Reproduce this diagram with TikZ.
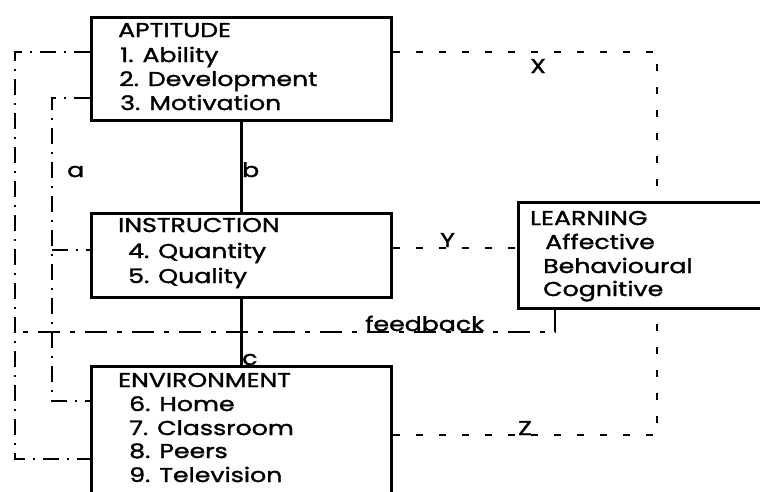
\documentclass[tikz,border=0pt]{standalone}
\usepackage{fontspec}
\setmainfont{Poppins}[FakeStretch=1.26,FakeBold=1.6]
\usetikzlibrary{calc}
\begin{document}
\begin{tikzpicture}[x=1pt,y=-1pt,
  box/.style={draw,line width=3.4pt,rectangle,inner sep=0pt,anchor=north west},
  link/.style={line width=3.2pt},
  dashlink/.style={line width=1.9pt,dash pattern=on 7pt off 16pt},
  fblink/.style={line width=1.9pt,dash pattern=on 22pt off 10pt on 5pt off 10pt},
  looplink/.style={line width=1.9pt,dash pattern=on 16pt off 8pt on 2pt off 8pt},
  txt/.style={anchor=base west,inner sep=0pt,font=\fontsize{20}{24}\selectfont},
  lbl/.style={anchor=base west,inner sep=0pt,font=\fontsize{20}{24}\selectfont}]
\useasboundingbox (0,0) rectangle (760,491);
\clip (0,0) rectangle (760,491);

% boxes
\node[box,minimum width=300pt,minimum height=103pt] (apt) at (90,16) {};
\node[box,minimum width=300pt,minimum height=84pt]  (ins) at (90,212) {};
\node[box,minimum width=300pt,minimum height=165pt] (env) at (90,365) {};
\node[box,minimum width=283pt,minimum height=106pt] (lrn) at (517,201) {};

% box texts
\node[txt] (apt0) at (118,37)  {APTITUDE};
\node[txt] (apt1) at (120,62)  {1. Ability};
\node[txt] (apt2) at (119,86)  {2. Development};
\node[txt] (apt3) at (120,110) {3. Motivation};

\node[txt] (ins0) at (118,232) {INSTRUCTION};
\node[txt] (ins1) at (128,258) {4. Quantity};
\node[txt] (ins2) at (128,283) {5. Quality};

\node[txt] (env0) at (118,387) {ENVIRONMENT};
\node[txt] (env1) at (129,411) {6. Home};
\node[txt] (env2) at (129,435) {7. Classroom};
\node[txt] (env3) at (129,458) {8. Peers};
\node[txt] (env4) at (129,482) {9. Television};

\node[txt] (lrn0) at (530,225) {LEARNING};
\node[txt] (lrn1) at (545,249) {Affective};
\node[txt] (lrn2) at (543,273) {Behavioural};
\node[txt] (lrn3) at (543,296) {Cognitive};

% solid links
\draw[link] (apt.south) -- (ins.north);
\draw[link] (ins.south) -- (env.north);

% dashed links to LEARNING
\coordinate (xc) at (657,52);
\draw[dashlink] (apt.east |- xc) -- (xc) -- (xc |- lrn.north);
\coordinate (yc) at (450,248);
\draw[dashlink] (ins.east |- yc) -- (lrn.west |- yc);
\coordinate (zc) at (657,435);
\draw[dashlink] (env.east |- zc) -- (zc) -- (zc |- lrn.south);

% feedback line
\coordinate (fbr) at (555,332);
\coordinate (fbl) at (15,332);
\draw[fblink] (fbr |- lrn.south) -- (fbr) -- (fbl);

% left loops
\coordinate (otop) at (15,52);
\coordinate (obot) at (15,459);
\draw[looplink] (apt.west |- otop) -- (otop) -- (obot) -- (env.west |- obot);
\coordinate (itop) at (52,98);
\coordinate (ibot) at (52,401);
\coordinate (imid) at (52,250);
\draw[looplink] (apt.west |- itop) -- (itop) -- (ibot) -- (env.west |- ibot);
\draw[looplink] (imid) -- (ins.west |- imid);

% labels
\node[lbl] (la) at (67,177)  {a};
\node[lbl] (lb) at (242,177) {b};
\node[lbl] (lc) at (242,365) {c};
\node[lbl] (lx) at (530,73)  {X};
\node[lbl] (ly) at (440,247) {Y};
\node[lbl] (lz) at (518,435) {Z};
\node[lbl] (lf) at (365,331) {feedback};
\end{tikzpicture}
\end{document}
